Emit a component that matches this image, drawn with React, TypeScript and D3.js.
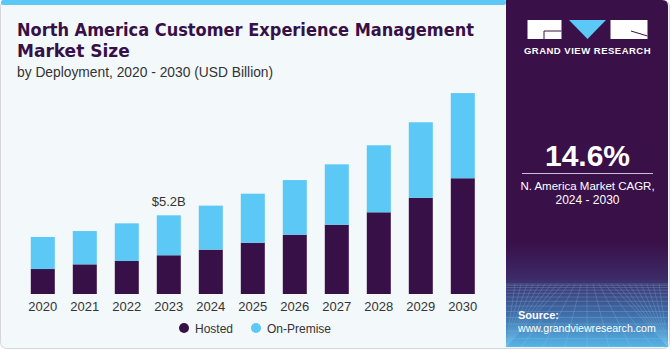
import { useEffect, useRef } from 'react'
import * as d3 from 'd3'

const years = ['2020', '2021', '2022', '2023', '2024', '2025', '2026', '2027', '2028', '2029', '2030']
const hosted = [1.65, 1.96, 2.18, 2.56, 2.93, 3.39, 3.92, 4.58, 5.4, 6.36, 7.65]
const onPremise = [2.12, 2.2, 2.49, 2.64, 2.91, 3.24, 3.61, 3.99, 4.43, 4.99, 5.63]
const seriesNames = ['Hosted', 'On-Premise']
const seriesColors = ['#371047', '#5bc8f5']
const highlight = { year: '2023', label: '$5.2B' }

const W = 671
const H = 350
const FONT = '"Liberation Sans", Arial, sans-serif'
const TITLE_FONT = '"DejaVu Sans", "Liberation Sans", sans-serif'

const App = () => {
  const ref = useRef<SVGSVGElement>(null)

  useEffect(() => {
    if (!ref.current) return
    const svg = d3.select(ref.current)
    svg.selectAll('*').remove()

    const defs = svg.append('defs')
    const grad = defs.append('linearGradient')
      .attr('id', 'sideGrad')
      .attr('x1', 0).attr('y1', 0).attr('x2', 0).attr('y2', 1)
    grad.append('stop').attr('offset', '0%').attr('stop-color', '#3a1049')
    grad.append('stop').attr('offset', '70%').attr('stop-color', '#3a1049')
    grad.append('stop').attr('offset', '80%').attr('stop-color', '#3c2a66')
    grad.append('stop').attr('offset', '90%').attr('stop-color', '#3f6aa5')
    grad.append('stop').attr('offset', '100%').attr('stop-color', '#55b4e6')

    // 外框與背景
    svg.append('rect')
      .attr('x', 0.5).attr('y', 0.5).attr('width', W - 2).attr('height', H - 2)
      .attr('rx', 6)
      .attr('fill', '#f3f8fb')
      .attr('stroke', '#d4d6d8')

    // 上方藍色條
    svg.append('rect')
      .attr('x', 1).attr('y', 0).attr('width', 505).attr('height', 5)
      .attr('rx', 2)
      .attr('fill', '#5bc8f5')

    // 右側面板
    const side = svg.append('g')
    side.append('path')
      .attr('d', `M506,0 H662 Q668,0 668,6 V347 H506 Z`)
      .attr('fill', 'url(#sideGrad)')

    // 網格裝飾
    const grid = side.append('g')
      .attr('stroke', '#9fd3f2')
      .attr('stroke-width', 0.5)
      .attr('opacity', 0.45)
    d3.range(0, 16).forEach(i => {
      const yy = 284 + i * i * 0.28 + i * 1.2
      if (yy < 347) {
        grid.append('line').attr('x1', 506).attr('x2', 668).attr('y1', yy).attr('y2', yy)
      }
    })
    d3.range(-12, 13).forEach(i => {
      grid.append('line')
        .attr('x1', 587 + i * 6).attr('y1', 284)
        .attr('x2', Math.max(506, Math.min(668, 587 + i * 22))).attr('y2', 347)
    })

    // 標誌
    const logo = side.append('g')
    logo.append('rect').attr('x', 527.5).attr('y', 20).attr('width', 34).attr('height', 19).attr('fill', '#fff')
    logo.append('path').attr('d', 'M544,39 V31 H561.5').attr('fill', 'none').attr('stroke', '#3a1049').attr('stroke-width', 1)
    logo.append('path').attr('d', 'M569,20 H606 L587.5,39 Z').attr('fill', '#5bc8f5')
    logo.append('rect').attr('x', 610.5).attr('y', 20).attr('width', 37).attr('height', 19).attr('fill', '#fff')
    logo.append('path').attr('d', 'M631,31 L647.5,36').attr('stroke', '#3a1049').attr('stroke-width', 1)
    logo.append('text')
      .attr('x', 587.5).attr('y', 54)
      .attr('text-anchor', 'middle')
      .attr('fill', '#fff')
      .style('font-family', FONT)
      .style('font-size', '9.5px')
      .style('font-weight', 'bold')
      .style('letter-spacing', '0.5px')
      .text('GRAND VIEW RESEARCH')

    side.append('text')
      .attr('x', 587.5).attr('y', 165.5)
      .attr('text-anchor', 'middle')
      .attr('fill', '#fff')
      .style('font-family', FONT)
      .style('font-size', '30px')
      .style('font-weight', 'bold')
      .text('14.6%')
    side.append('line')
      .attr('x1', 522).attr('x2', 653).attr('y1', 173.5).attr('y2', 173.5)
      .attr('stroke', '#c9bfd0').attr('stroke-width', 1)
    side.append('text')
      .attr('x', 587.5).attr('y', 190)
      .attr('text-anchor', 'middle')
      .attr('fill', '#fff')
      .style('font-family', FONT)
      .style('font-size', '11.5px')
      .text('N. America Market CAGR,')
    side.append('text')
      .attr('x', 587.5).attr('y', 204)
      .attr('text-anchor', 'middle')
      .attr('fill', '#fff')
      .style('font-family', FONT)
      .style('font-size', '12px')
      .text('2024 - 2030')
    side.append('text')
      .attr('x', 518).attr('y', 319)
      .attr('fill', '#fff')
      .style('font-family', FONT)
      .style('font-size', '11px')
      .style('font-weight', 'bold')
      .text('Source:')
    side.append('text')
      .attr('x', 518).attr('y', 332)
      .attr('fill', '#fff')
      .style('font-family', FONT)
      .style('font-size', '10.6px')
      .text('www.grandviewresearch.com')

    // 標題
    const title = svg.append('g')
      .attr('fill', '#371047')
      .style('font-family', TITLE_FONT)
      .style('font-weight', 'bold')
      .style('font-size', '17px')
    title.append('text').attr('x', 17).attr('y', 35.5)
      .attr('textLength', 457)
      .attr('lengthAdjust', 'spacingAndGlyphs')
      .text('North America Customer Experience Management')
    title.append('text').attr('x', 17).attr('y', 57).text('Market Size')
    svg.append('text')
      .attr('x', 17).attr('y', 77)
      .attr('fill', '#333')
      .style('font-family', FONT)
      .style('font-size', '13.8px')
      .text('by Deployment, 2020 - 2030 (USD Billion)')

    // 比例尺
    const x = d3.scaleBand()
      .domain(years)
      .range([21.8, 483.8])
      .paddingInner(0.4286)
      .paddingOuter(0.2143)
    const baseY = 294
    const y = d3.scaleLinear()
      .domain([0, 14])
      .range([baseY, baseY - 14 * 15.13])

    const rows = years.map((yr, i) => ({ year: yr, hosted: hosted[i], onPremise: onPremise[i] }))
    const stack = d3.stack<any>().keys(['hosted', 'onPremise'])(rows)

    const bars = svg.append('g')
    stack.forEach((layer, li) => {
      bars.append('g')
        .attr('fill', seriesColors[li])
        .selectAll('rect')
        .data(layer)
        .enter()
        .append('rect')
        .attr('x', d => x(d.data.year) as number)
        .attr('y', d => y(d[1]))
        .attr('width', x.bandwidth())
        .attr('height', d => y(d[0]) - y(d[1]))
    })

    // 數值標籤
    const hi = years.indexOf(highlight.year)
    svg.append('text')
      .attr('x', (x(highlight.year) as number) + x.bandwidth() / 2)
      .attr('y', y(hosted[hi] + onPremise[hi]) - 9)
      .attr('text-anchor', 'middle')
      .attr('fill', '#333')
      .style('font-family', FONT)
      .style('font-size', '13px')
      .text(highlight.label)

    // X 軸
    const xAxis = svg.append('g')
      .attr('transform', `translate(0,${baseY})`)
      .call(d3.axisBottom(x).tickSize(0).tickPadding(8))
    xAxis.select('.domain').remove()
    xAxis.selectAll('text')
      .attr('fill', '#333')
      .style('font-family', FONT)
      .style('font-size', '13px')

    // 圖例
    const legendX = [184, 256]
    seriesNames.forEach((name, i) => {
      svg.append('circle')
        .attr('cx', legendX[i]).attr('cy', 328).attr('r', 5)
        .attr('fill', seriesColors[i])
      svg.append('text')
        .attr('x', legendX[i] + 11).attr('y', 332.5)
        .attr('fill', '#333')
        .style('font-family', FONT)
        .style('font-size', '12px')
        .text(name)
    })
  }, [])

  return (
    <svg
      ref={ref}
      width={W}
      height={H}
      style={{ position: 'absolute', left: 0, top: 0, display: 'block' }}
    />
  )
}

export default App
